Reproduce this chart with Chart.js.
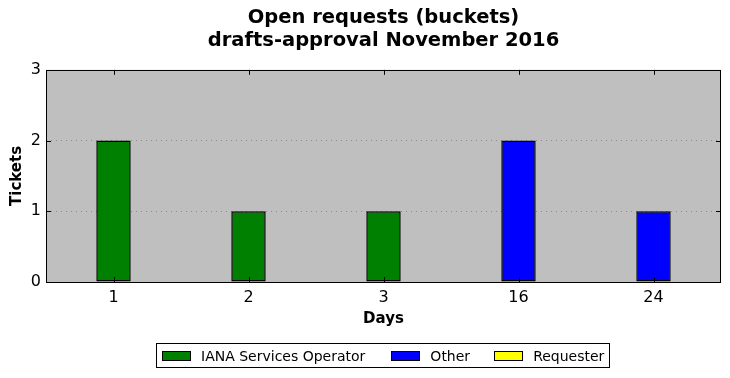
<!DOCTYPE html>
<html>
<head>
<meta charset="utf-8">
<script src="https://cdn.jsdelivr.net/npm/chart.js@4.4.0/dist/chart.umd.min.js"></script>
<style>
  html, body { margin: 0; padding: 0; background: #fff; }
  #wrap { position: relative; width: 730px; height: 378px; }
  #legend {
    position: absolute; left: 156px; top: 343px; width: 452px; height: 23px;
    border: 1px solid #000; display: flex; align-items: center;
    font-family: "DejaVu Sans", sans-serif; font-size: 14px; color: #000;
    box-sizing: content-box;
  }
  #legend .item { display: flex; align-items: center; }
  #legend .sw { width: 27px; height: 8px; border: 1px solid #000; margin: 0 10px 0 0; }
</style>
</head>
<body>
<div id="wrap">
  <canvas id="chart" width="730" height="378"></canvas>
  <div id="legend"></div>
</div>
<script>
const days = ['1', '2', '3', '16', '24'];
const ianaOperator = [2, 1, 1, null, null];
const other = [null, null, null, 2, 1];
const requester = [null, null, null, null, null];
const yTicks = [0, 1, 2, 3];

const seriesNames = ['IANA Services Operator', 'Other', 'Requester'];
const seriesColors = ['#008000', '#0000ff', '#ffff00'];

const FONT = '"DejaVu Sans", sans-serif';

const frame = {
  id: 'frame',
  beforeDraw(chart) {
    const {ctx, chartArea: a} = chart;
    ctx.save();
    ctx.fillStyle = '#bfbfbf';
    ctx.fillRect(a.left, a.top, a.right - a.left, a.bottom - a.top);
    ctx.restore();
  },
  afterDraw(chart) {
    const {ctx, chartArea: a, scales} = chart;
    ctx.save();
    ctx.strokeStyle = '#000';
    ctx.lineWidth = 1;
    ctx.strokeRect(Math.round(a.left) + 0.5, Math.round(a.top) + 0.5,
      Math.round(a.right - a.left) - 1, Math.round(a.bottom - a.top));
    ctx.beginPath();
    days.forEach((d, i) => {
      const x = Math.round(scales.x.getPixelForValue(i)) + 0.5;
      ctx.moveTo(x, a.top); ctx.lineTo(x, a.top + 5);
      ctx.moveTo(x, a.bottom); ctx.lineTo(x, a.bottom - 5);
    });
    yTicks.forEach(v => {
      const y = Math.round(scales.y.getPixelForValue(v)) + 0.5;
      ctx.moveTo(a.left, y); ctx.lineTo(a.left + 5, y);
      ctx.moveTo(a.right, y); ctx.lineTo(a.right - 5, y);
    });
    ctx.stroke();
    ctx.restore();
  }
};

new Chart(document.getElementById('chart'), {
  type: 'bar',
  data: {
    labels: days,
    datasets: [ianaOperator, other, requester].map((vals, i) => ({
      label: seriesNames[i],
      data: vals,
      backgroundColor: seriesColors[i],
      borderColor: '#000',
      borderWidth: 1.5,
      borderSkipped: false,
      categoryPercentage: 1,
      barPercentage: 0.255
    }))
  },
  options: {
    responsive: false,
    animation: false,
    layout: { padding: { left: 0, right: 9, top: 0, bottom: 50 } },
    plugins: {
      legend: { display: false },
      tooltip: { enabled: false },
      title: {
        display: true,
        fullSize: false,
        text: ['Open requests (buckets)', 'drafts-approval November 2016'],
        color: '#000',
        font: { family: FONT, size: 19.5, weight: 'bold', lineHeight: 1.15 },
        padding: { top: 7, bottom: 18 }
      }
    },
    scales: {
      x: {
        stacked: true,
        grid: { display: false, drawTicks: false },
        border: { display: false },
        ticks: { color: '#000', padding: 6, font: { family: FONT, size: 16 } },
        title: {
          display: true, text: 'Days', color: '#000',
          font: { family: FONT, size: 15, weight: 'bold', lineHeight: 1.2 },
          padding: { top: 0, bottom: 0 }
        },
        afterFit(s) { s.height = 46; }
      },
      y: {
        stacked: true,
        min: 0, max: 3,
        afterBuildTicks(s) { s.ticks = yTicks.map(v => ({ value: v })); },
        grid: {
          drawTicks: false,
          color: ctx => (ctx.tick && (ctx.tick.value === 1 || ctx.tick.value === 2)) ? '#8a8a8a' : 'rgba(0,0,0,0)',
          lineWidth: 1
        },
        border: { display: false, dash: [1, 4] },
        ticks: { color: '#000', padding: 5, font: { family: FONT, size: 16 } },
        title: {
          display: true, text: 'Tickets', color: '#000',
          font: { family: FONT, size: 15, weight: 'bold', lineHeight: 1.2 },
          padding: { top: 8, bottom: 0 }
        },
        afterFit(s) { s.width = 46; }
      }
    }
  },
  plugins: [frame]
});

const legend = document.getElementById('legend');
const gaps = [5, 26, 24];
seriesNames.forEach((n, i) => {
  const item = document.createElement('div');
  item.className = 'item';
  item.style.marginLeft = gaps[i] + 'px';
  item.innerHTML = '<span class="sw" style="background:' + seriesColors[i] + '"></span><span>' + n + '</span>';
  legend.appendChild(item);
});
</script>
</body>
</html>
